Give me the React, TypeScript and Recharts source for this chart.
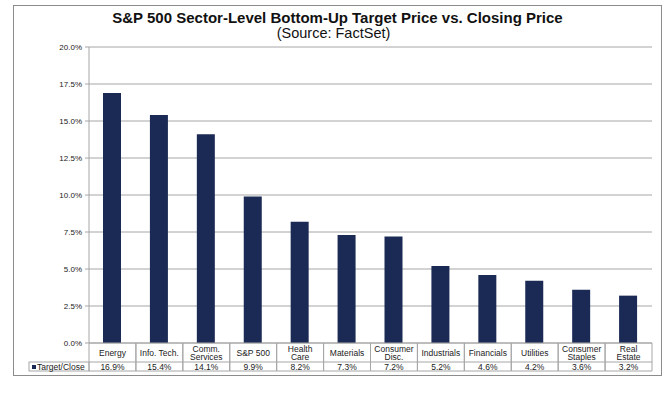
import { BarChart, Bar, XAxis, YAxis, CartesianGrid } from 'recharts';

const CATEGORIES = [
  'Energy',
  'Info. Tech.',
  'Comm.\nServices',
  'S&P 500',
  'Health\nCare',
  'Materials',
  'Consumer\nDisc.',
  'Industrials',
  'Financials',
  'Utilities',
  'Consumer\nStaples',
  'Real\nEstate',
];
const TARGET_CLOSE = [16.9, 15.4, 14.1, 9.9, 8.2, 7.3, 7.2, 5.2, 4.6, 4.2, 3.6, 3.2];
const Y_TICKS = [0, 2.5, 5, 7.5, 10, 12.5, 15, 17.5, 20];
const SERIES_NAME = 'Target/Close';

const W = 667;
const H = 398;
const PLOT_LEFT = 89;
const PLOT_RIGHT = 652;
const PLOT_TOP = 47;
const PLOT_BOTTOM = 343;
const Y_AXIS_W = 40;
const X_AXIS_H = 28;
const BAND = (PLOT_RIGHT - PLOT_LEFT) / CATEGORIES.length;

const BAR_COLOR = '#1b2a55';
const GRID = '#a6a6a6';
const TABLE_LINE = '#a6a6a6';
const FONT = '"Liberation Sans", Arial, sans-serif';
const TEXT = '#222';

const data = CATEGORIES.map((c, i) => ({ name: c, value: TARGET_CLOSE[i] }));

// x-axis tick drawn as one column of the Excel-style data table
function TableTick(props: any) {
  const { x, y, payload, index } = props;
  const left = x - BAND / 2;
  const right = x + BAND / 2;
  const rowMid = y + 19;
  const bottom = y + 28;
  const lines: string[] = String(payload.value).split('\n');
  const val = TARGET_CLOSE[index];
  return (
    <g fontFamily={FONT} fontSize={8.5} fill={TEXT}>
      <line x1={left} y1={y} x2={left} y2={bottom} stroke={TABLE_LINE} />
      <line x1={right} y1={y} x2={right} y2={bottom} stroke={TABLE_LINE} />
      <line x1={left} y1={rowMid} x2={right} y2={rowMid} stroke={TABLE_LINE} />
      <line x1={left} y1={bottom} x2={right} y2={bottom} stroke={TABLE_LINE} />
      {lines.length === 1 ? (
        <text x={x} y={y + 12.5} textAnchor="middle">{lines[0]}</text>
      ) : (
        lines.map((l, k) => (
          <text key={k} x={x} y={y + 8.5 + k * 8.5} textAnchor="middle">{l}</text>
        ))
      )}
      <text x={x} y={bottom - 1.5} textAnchor="middle">{val.toFixed(1)}%</text>
      {index === 0 && (
        <g>
          <rect x={29} y={rowMid} width={left - 29} height={bottom - rowMid} fill="none" stroke={TABLE_LINE} />
          <rect x={32} y={rowMid + 3} width={4} height={4} fill={BAR_COLOR} />
          <text x={37} y={bottom - 1.5}>{SERIES_NAME}</text>
        </g>
      )}
    </g>
  );
}

export default function App() {
  return (
    <div style={{ position: 'absolute', left: 0, top: 0, width: W, height: H, background: '#fff' }}>
      <div
        style={{
          position: 'absolute',
          left: 13,
          top: 5,
          width: 649,
          height: 371,
          border: '1px solid #8c8c8c',
          boxSizing: 'border-box',
        }}
      />
      <div
        style={{
          position: 'absolute',
          left: 0,
          width: W,
          top: 9,
          textAlign: 'center',
          fontFamily: FONT,
          fontWeight: 'bold',
          fontSize: 15,
          lineHeight: '17px',
          color: '#111',
          paddingLeft: 8,
          boxSizing: 'border-box',
        }}
      >
        S&amp;P 500 Sector-Level Bottom-Up Target Price vs. Closing Price
      </div>
      <div
        style={{
          position: 'absolute',
          left: 0,
          width: W,
          top: 25,
          textAlign: 'center',
          fontFamily: FONT,
          fontSize: 14.5,
          lineHeight: '17px',
          color: '#111',
        }}
      >
        (Source: FactSet)
      </div>
      <div style={{ position: 'absolute', left: 0, top: 0 }}>
        <BarChart
          width={W}
          height={H}
          data={data}
          margin={{
            top: PLOT_TOP,
            right: W - PLOT_RIGHT,
            left: PLOT_LEFT - Y_AXIS_W,
            bottom: H - PLOT_BOTTOM - X_AXIS_H,
          }}
        >
          <CartesianGrid vertical={false} stroke={GRID} />
          <YAxis
            width={Y_AXIS_W}
            domain={[0, 20]}
            ticks={Y_TICKS}
            tickFormatter={(v: number) => `${v.toFixed(1)}%`}
            tick={{ fontSize: 8, fill: TEXT, fontFamily: FONT }}
            tickSize={4}
            tickMargin={3}
            stroke={GRID}
            axisLine={{ stroke: GRID }}
            tickLine={{ stroke: GRID }}
            interval={0}
          />
          <XAxis
            dataKey="name"
            height={X_AXIS_H}
            interval={0}
            tickLine={false}
            tickSize={0}
            tickMargin={0}
            axisLine={{ stroke: TABLE_LINE }}
            tick={<TableTick />}
          />
          <Bar dataKey="value" name={SERIES_NAME} fill={BAR_COLOR} barSize={18} isAnimationActive={false} />
        </BarChart>
      </div>
    </div>
  );
}
